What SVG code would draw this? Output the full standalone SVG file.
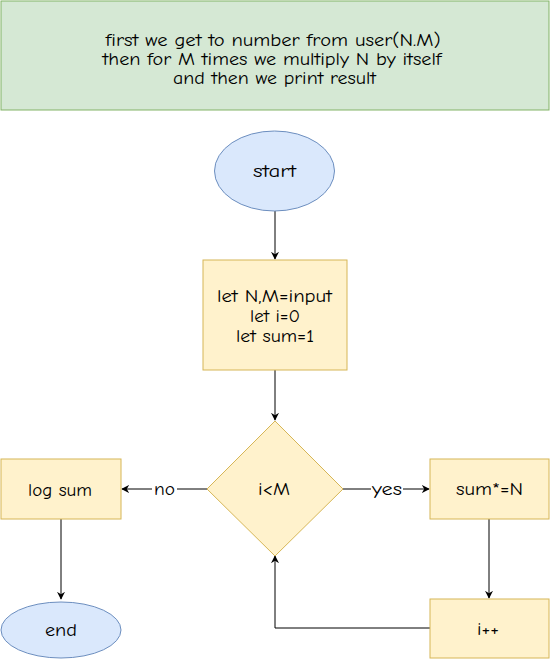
<svg xmlns="http://www.w3.org/2000/svg" width="551" height="659" viewBox="0 0 551 659">
<style>
text{font-family:"Comic Neue","Liberation Sans","DejaVu Sans",sans-serif;font-size:17px;fill:#000;text-anchor:middle}
.green{fill:#d5e8d4;stroke:#82b366}
.blue{fill:#dae8fc;stroke:#6c8ebf}
.yellow{fill:#fff2cc;stroke:#d6b656}
.conn{fill:none;stroke:#000;stroke-width:1}
.lbl{fill:#fff;stroke:none}
</style>
<defs>
<marker id="arr" viewBox="0 0 10 10" refX="9" refY="5" markerWidth="8" markerHeight="8" markerUnits="userSpaceOnUse" orient="auto">
<path d="M0,0 L10,5 L0,10 L3,5 Z" fill="#000"/>
</marker>
</defs>
<rect width="551" height="659" fill="#fff"/>
<g id="note">
<rect class="green" x="1" y="1" width="548" height="109"/>
<text x="273" y="46" textLength="335" lengthAdjust="spacingAndGlyphs">first we get to number from user(N.M)</text>
<text x="272" y="65" textLength="339" lengthAdjust="spacingAndGlyphs">then for M times we multiply N by itself</text>
<text x="274.5" y="84" textLength="203" lengthAdjust="spacingAndGlyphs">and then we print result</text>
</g>
<g id="connectors">
<path class="conn" d="M275,211 L275,259" marker-end="url(#arr)"/>
<path class="conn" d="M275,370 L275,420" marker-end="url(#arr)"/>
<path class="conn" d="M207,489 L122,489" marker-end="url(#arr)"/>
<rect class="lbl" x="152" y="481" width="25" height="16"/>
<text x="164.5" y="495" textLength="21" lengthAdjust="spacingAndGlyphs">no</text>
<path class="conn" d="M343,489 L429,489" marker-end="url(#arr)"/>
<rect class="lbl" x="371" y="481" width="32" height="16"/>
<text x="387" y="495" textLength="30" lengthAdjust="spacingAndGlyphs">yes</text>
<path class="conn" d="M61,519 L61,599" marker-end="url(#arr)"/>
<path class="conn" d="M489,519 L489,598" marker-end="url(#arr)"/>
<path class="conn" d="M430,628 L275,628 L275,556" marker-end="url(#arr)"/>
</g>
<g id="start">
<ellipse class="blue" cx="274.5" cy="171" rx="60" ry="40"/>
<text x="274.5" y="177" textLength="43" lengthAdjust="spacingAndGlyphs">start</text>
</g>
<g id="init">
<rect class="yellow" x="203" y="260" width="144" height="110"/>
<text x="274.5" y="302" textLength="115" lengthAdjust="spacingAndGlyphs">let N,M=input</text>
<text x="275" y="322" textLength="50" lengthAdjust="spacingAndGlyphs">let i=0</text>
<text x="275" y="342" textLength="78" lengthAdjust="spacingAndGlyphs">let sum=1</text>
</g>
<g id="cond">
<path class="yellow" d="M275,421 L343,489 L275,556 L207,489 Z"/>
<text x="274" y="495" textLength="32" lengthAdjust="spacingAndGlyphs">i&lt;M</text>
</g>
<g id="log">
<rect class="yellow" x="1" y="459" width="120" height="60"/>
<text x="60" y="496" textLength="64" lengthAdjust="spacingAndGlyphs">log sum</text>
</g>
<g id="mult">
<rect class="yellow" x="430" y="459" width="119" height="60"/>
<text x="489.5" y="495" textLength="67" lengthAdjust="spacingAndGlyphs">sum*=N</text>
</g>
<g id="inc">
<rect class="yellow" x="430" y="599" width="119" height="59"/>
<text x="488" y="635" textLength="22" lengthAdjust="spacingAndGlyphs">i++</text>
</g>
<g id="end">
<ellipse class="blue" cx="61" cy="630" rx="60" ry="28"/>
<text x="61" y="636" textLength="32" lengthAdjust="spacingAndGlyphs">end</text>
</g>
</svg>
